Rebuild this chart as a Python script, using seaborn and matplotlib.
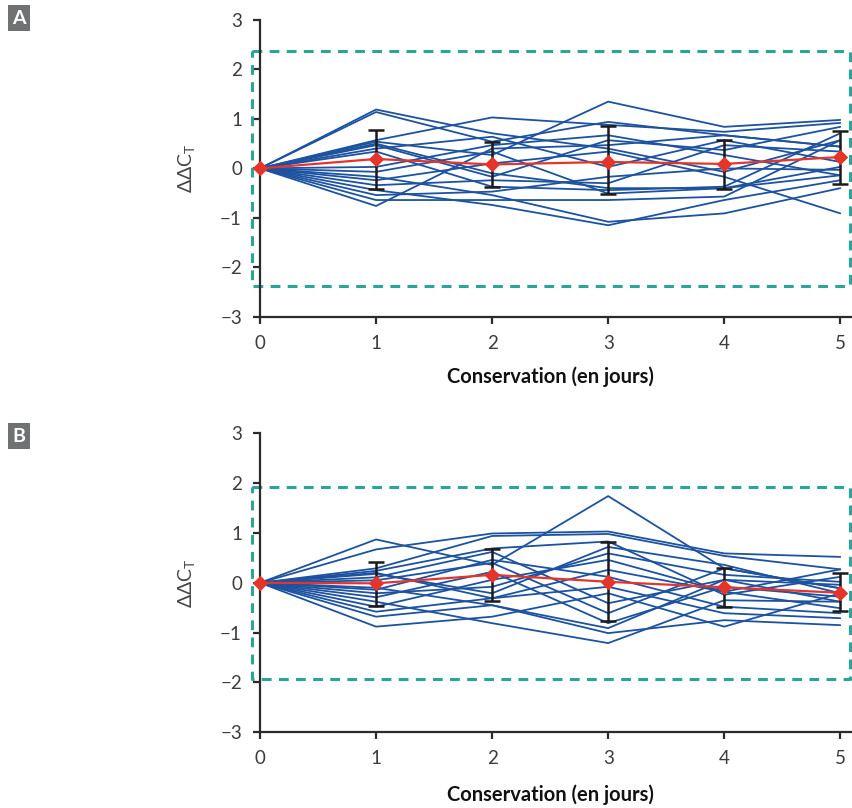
import numpy as np
import pandas as pd
import matplotlib
matplotlib.use("Agg")
import matplotlib.pyplot as plt
import seaborn as sns

days = [0, 1, 2, 3, 4, 5]

# Panel A individual curves (values at days 1..5, all start at 0)
lines_a = [
    [1.19, 0.71, 0.40, -0.07, 0.57],
    [1.14, 0.54, 0.94, 0.67, 0.44],
    [0.57, 1.03, 0.88, 0.74, 0.92],
    [0.54, 0.27, 1.35, 0.84, 0.98],
    [0.47, -0.17, 0.57, 0.37, 0.84],
    [0.40, 0.64, 0.03, 0.57, 0.13],
    [0.34, -0.37, -0.44, -0.37, 0.71],
    [0.03, 0.47, 0.67, 0.27, -0.14],
    [-0.07, 0.34, -0.51, -0.40, 0.03],
    [-0.17, -0.54, -1.08, -0.91, -0.40],
    [-0.24, 0.10, 0.34, -0.17, -0.91],
    [-0.34, -0.24, -0.30, 0.47, 0.34],
    [-0.44, -0.74, -1.15, -0.64, -0.24],
    [-0.54, -0.47, -0.17, 0.00, -0.03],
    [-0.64, -0.64, -0.64, -0.57, 0.57],
    [-0.76, 0.40, 0.47, 0.67, 0.44],
    [0.50, -0.10, -0.40, -0.40, -0.14],
]
mean_a = [0.0, 0.19, 0.08, 0.13, 0.09, 0.23]
err_lo_a = [0.0, 0.61, 0.46, 0.64, 0.50, 0.55]
err_hi_a = [0.0, 0.58, 0.46, 0.73, 0.48, 0.52]
limit_a = 2.37

# Panel B
lines_b = [
    [0.87, 0.36, 1.74, 0.29, -0.11],
    [0.67, 0.99, 1.03, 0.59, 0.52],
    [0.29, 0.94, 0.98, 0.54, 0.27],
    [0.24, 0.69, 0.83, -0.24, 0.12],
    [0.18, -0.21, 0.72, 0.36, -0.21],
    [0.11, 0.62, -0.41, 0.06, -0.04],
    [-0.14, 0.46, 0.12, -0.48, -0.61],
    [-0.21, -0.08, 0.59, 0.16, 0.02],
    [-0.29, 0.22, -0.81, -0.08, -0.28],
    [-0.38, -0.81, -1.21, -0.35, -0.38],
    [-0.48, 0.06, 0.46, -0.18, -0.51],
    [-0.58, -0.31, -0.08, -0.61, -0.71],
    [-0.68, -0.45, -1.01, -0.75, -0.85],
    [-0.88, -0.68, -0.21, -0.88, -0.21],
    [0.20, -0.31, 0.26, -0.18, 0.27],
    [0.05, 0.40, -0.61, 0.29, -0.11],
    [-0.10, -0.45, -0.91, 0.06, -0.38],
]
mean_b = [0.0, -0.01, 0.16, 0.02, -0.09, -0.20]
err_lo_b = [0.0, 0.46, 0.53, 0.78, 0.39, 0.37]
err_hi_b = [0.0, 0.42, 0.52, 0.79, 0.38, 0.39]
limit_b = 1.93

yticks = [-3, -2, -1, 0, 1, 2, 3]
xticks = [0, 1, 2, 3, 4, 5]
xlabel = "Conservation (en jours)"
ylabel = r"$\Delta\Delta\mathrm{C}_\mathrm{T}$"

sns.set_style("ticks")
plt.rcParams["font.family"] = ["Lato", "DejaVu Sans"]
plt.rcParams["mathtext.fontset"] = "custom"
plt.rcParams["mathtext.rm"] = "Lato"

BLUE = "#1c52a0"
RED = "#e5352b"
TEAL = "#2aa596"
AX = "#2b2b2b"

fig = plt.figure(figsize=(8.53, 8.08), dpi=100)


def to_long(lines):
    rows = []
    for i, ln in enumerate(lines):
        vals = [0.0] + ln
        for d, v in zip(days, vals):
            rows.append({"day": d, "val": v, "unit": i})
    return pd.DataFrame(rows)


def draw(ax, lines, mean, lo, hi, limit):
    df = to_long(lines)
    sns.lineplot(data=df, x="day", y="val", units="unit", estimator=None,
                 color=BLUE, lw=1.3, ax=ax, legend=False, clip_on=False)
    ax.errorbar(days[1:], mean[1:], yerr=[lo[1:], hi[1:]], fmt="none",
                ecolor="#1a1a1a", elinewidth=1.8, capsize=6, capthick=1.8, zorder=4)
    mdf = pd.DataFrame({"day": days, "val": mean})
    sns.lineplot(data=mdf, x="day", y="val", color=RED, lw=1.6, marker="D",
                 markersize=7, markeredgecolor=RED, ax=ax, zorder=5, clip_on=False)
    # dashed limits box
    x0, x1 = -0.07, 5.08
    ax.plot([x0, x1, x1, x0, x0], [limit, limit, -limit, -limit, limit],
            ls=(0, (3.2, 2.4)), color=TEAL, lw=2.2, clip_on=False, zorder=1)
    ax.set_xlim(0, 5.1)
    ax.set_ylim(-3, 3)
    ax.set_xticks(xticks)
    ax.set_yticks(yticks)
    ax.set_yticklabels([("\u2212%d" % -t) if t < 0 else str(t) for t in yticks])
    sns.despine(ax=ax)
    for s in ["left", "bottom"]:
        ax.spines[s].set_color(AX)
        ax.spines[s].set_linewidth(1.6)
    ax.tick_params(axis="both", direction="out", length=5, width=1.6, color=AX,
                   labelsize=13.5, labelcolor="#3c3c3c", pad=8)
    ax.set_xlabel(xlabel, fontsize=14.5, fontweight="bold", color="#111111")
    ax.set_ylabel(ylabel, fontsize=14, color="#444444")
    ax.yaxis.set_label_coords(-0.105, 0.5)


axA = fig.add_axes([0.3048, 0.608, 0.6939, 0.3672])
draw(axA, lines_a, mean_a, err_lo_a, err_hi_a, limit_a)
axA.xaxis.set_label_coords(0.49, -0.168)

axB = fig.add_axes([0.3048, 0.0937, 0.6939, 0.370])
draw(axB, lines_b, mean_b, err_lo_b, err_hi_b, limit_b)
axB.xaxis.set_label_coords(0.49, -0.175)

for lab, y in [("A", 1 - 18 / 808), ("B", 1 - 436 / 808)]:
    fig.text(19 / 853, y, lab, ha="center", va="center", color="white",
             fontsize=14, fontweight="bold",
             bbox=dict(boxstyle="square,pad=0.22", facecolor="#707173", edgecolor="none"))

fig.savefig("out.png", dpi=100)
